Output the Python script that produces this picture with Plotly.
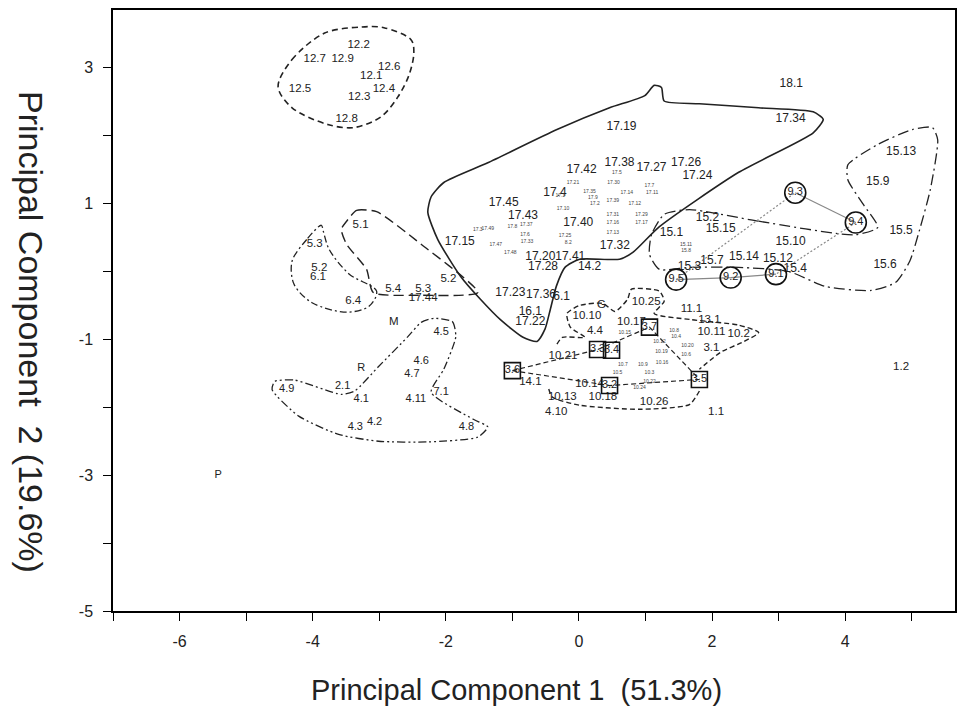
import plotly.graph_objects as go

# ---------------- data (PC1, PC2 scores) ----------------
g12_names = ["12.2", "12.7", "12.9", "12.6", "12.1", "12.4", "12.5", "12.3", "12.8"]
g12_x = [-3.31, -3.97, -3.55, -2.85, -3.12, -2.93, -4.19, -3.30, -3.49]
g12_y = [3.34, 3.12, 3.12, 3.01, 2.88, 2.68, 2.68, 2.57, 2.25]

g5_names = ["5.1", "5.3", "5.2", "6.1", "6.4", "5.4", "5.3", "17.44", "5.2", "M"]
g5_x = [-3.28, -3.97, -3.90, -3.92, -3.39, -2.79, -2.34, -2.34, -1.96, -2.78]
g5_y = [0.68, 0.40, 0.05, -0.08, -0.43, -0.26, -0.26, -0.40, -0.12, -0.75]

g4_names = ["4.5", "4.6", "4.7", "R", "2.1", "4.9", "4.1", "4.11", "7.1", "4.2", "4.3", "4.8", "P"]
g4_x = [-2.07, -2.37, -2.51, -3.27, -3.55, -4.39, -3.27, -2.45, -2.07, -3.07, -3.36, -1.69, -5.42]
g4_y = [-0.90, -1.32, -1.51, -1.43, -1.69, -1.74, -1.88, -1.88, -1.78, -2.22, -2.29, -2.29, -3.00]

g17_names = ["18.1", "17.34", "17.19", "17.42", "17.38", "17.27", "17.26", "17.24", "17.4",
             "17.45", "17.43", "17.40", "17.15", "17.32", "17.20", "17.41", "17.28", "14.2",
             "17.23", "17.36", "6.1", "16.1", "17.22"]
g17_x = [3.19, 3.18, 0.64, 0.04, 0.61, 1.09, 1.61, 1.78, -0.36,
         -1.13, -0.84, -0.01, -1.79, 0.54, -0.58, -0.13, -0.54, 0.16,
         -1.03, -0.57, -0.26, -0.73, -0.73]
g17_y = [2.76, 2.24, 2.12, 1.50, 1.60, 1.53, 1.60, 1.41, 1.16,
         1.01, 0.82, 0.71, 0.43, 0.37, 0.21, 0.21, 0.06, 0.06,
         -0.32, -0.35, -0.37, -0.59, -0.75]

g15_names = ["15.13", "15.9", "15.5", "15.6", "15.2", "15.15", "15.1", "15.10", "15.14",
             "15.7", "15.12", "15.3", "15.4"]
g15_x = [4.84, 4.49, 4.84, 4.60, 1.93, 2.13, 1.39, 3.18, 2.48, 2.00, 2.99, 1.66, 3.25]
g15_y = [1.76, 1.31, 0.59, 0.09, 0.78, 0.62, 0.56, 0.43, 0.22, 0.16, 0.19, 0.07, 0.03]

g9_names = ["9.5", "9.3", "9.4", "9.1", "9.2"]
g9_x = [1.46, 3.25, 4.16, 2.96, 2.28]
g9_y = [-0.12, 1.16, 0.72, -0.04, -0.09]

g10_names = ["G", "10.25", "10.10", "10.17", "11.1", "13.1", "10.11", "10.2", "3.1", "4.4",
             "10.21", "14.1", "10.14", "10.13", "10.18", "4.10", "10.26", "1.1", "1.2"]
g10_x = [0.34, 1.01, 0.12, 0.79, 1.69, 1.96, 1.99, 2.40, 1.99, 0.24,
         -0.24, -0.73, 0.16, -0.25, 0.36, -0.34, 1.13, 2.06, 4.84]
g10_y = [-0.49, -0.45, -0.66, -0.74, -0.56, -0.71, -0.90, -0.93, -1.13, -0.88,
         -1.24, -1.63, -1.66, -1.85, -1.85, -2.07, -1.93, -2.07, -1.41]

g3_names = ["3.6", "3.3", "3.4", "3.7", "3.5", "3.2"]
g3_x = [-1.00, 0.28, 0.49, 1.06, 1.81, 0.46]
g3_y = [-1.46, -1.15, -1.16, -0.82, -1.59, -1.68]

tiny_names = ["17.21", "17.35", "17.1", "17.9", "17.2", "17.10", "17.3", "17.49", "17.8", "17.37",
              "17.47", "17.6", "17.33", "17.48", "17.25", "8.2", "17.5", "17.30", "17.14", "17.7",
              "17.11", "17.39", "17.12", "17.31", "17.29", "17.16", "17.17", "17.13",
              "15.11", "15.8",
              "10.8", "10.4", "10.12", "10.19", "10.20", "10.6", "10.16", "10.7", "10.9", "10.5",
              "10.3", "10.22", "10.24", "10.15"]
tiny_x = [-0.09, 0.16, -0.28, 0.21, 0.24, -0.24, -1.52, -1.37, -1.00, -0.79,
          -1.25, -0.81, -0.78, -1.03, -0.21, -0.16, 0.57, 0.52, 0.72, 1.06,
          1.10, 0.51, 0.84, 0.51, 0.94, 0.51, 0.94, 0.51,
          1.61, 1.61,
          1.43, 1.46, 1.21, 1.24, 1.63, 1.61, 1.25, 0.66, 0.96, 0.58,
          1.06, 1.06, 0.91, 0.69]
tiny_y = [1.31, 1.18, 1.12, 1.09, 0.99, 0.93, 0.62, 0.63, 0.66, 0.69,
          0.40, 0.54, 0.44, 0.28, 0.53, 0.43, 1.46, 1.31, 1.16, 1.26,
          1.16, 1.04, 0.99, 0.84, 0.84, 0.71, 0.71, 0.57,
          0.40, 0.31,
          -0.87, -0.96, -1.04, -1.18, -1.10, -1.22, -1.34, -1.37, -1.37, -1.49,
          -1.49, -1.63, -1.71, -0.90]

x_ticks = [-6, -4, -2, 0, 2, 4]
x_ticklabels = ["-6", "-4", "-2", "0", "2", "4"]
y_ticks = [-5, -3, -1, 1, 3]
y_ticklabels = ["-5", "-3", "-1", "1", "3"]

# ---------------- group outlines ----------------
out12_x = [-4.52, -4.31, -3.82, -3.27, -2.93, -2.52, -2.48, -2.55, -2.72, -2.97, -3.37, -3.76, -4.31, -4.52]
out12_y = [2.72, 3.12, 3.51, 3.60, 3.59, 3.41, 3.22, 2.90, 2.57, 2.28, 2.12, 2.16, 2.41, 2.72]

out5a_x = [-3.49, -3.34, -3.04, -2.37, -1.52, -2.37, -3.09, -3.19, -3.49, -3.57, -3.49]
out5a_y = [0.74, 0.90, 0.88, 0.40, -0.31, -0.35, -0.31, 0.03, 0.40, 0.62, 0.74]

out5b_x = [-3.87, -4.09, -4.31, -4.28, -4.01, -3.49, -3.15, -3.04, -3.45, -3.75, -3.84, -3.87]
out5b_y = [0.68, 0.47, 0.15, -0.19, -0.46, -0.60, -0.51, -0.29, -0.04, 0.32, 0.59, 0.68]

out4_x = [-2.18, -1.90, -1.85, -2.03, -2.22, -1.58, -1.37, -1.52, -2.27, -3.01, -3.61, -4.21,
          -4.61, -4.57, -4.27, -3.57, -3.37, -3.01, -2.57, -2.37, -2.18]
out4_y = [-0.69, -0.74, -0.96, -1.44, -1.78, -2.18, -2.29, -2.44, -2.51, -2.50, -2.40, -2.13,
          -1.74, -1.62, -1.60, -1.81, -1.76, -1.40, -0.96, -0.75, -0.69]

out17_x = [-0.33, 0.46, 0.99, 1.13, 1.24, 1.28, 1.81, 2.70, 3.52, 3.67, 3.52, 2.40, 1.21, 0.81,
           0.61, 0.01, -0.21, -0.34, -0.43, -0.51, -0.63, -0.84, -1.18, -1.48, -1.78, -2.12,
           -2.27, -2.22, -2.03, -1.37, -0.33]
out17_y = [2.09, 2.41, 2.59, 2.74, 2.71, 2.51, 2.47, 2.41, 2.35, 2.24, 2.04, 1.46, 0.66, 0.28,
           0.18, 0.18, 0.06, -0.22, -0.56, -0.85, -1.03, -0.97, -0.71, -0.41, -0.07, 0.47,
           0.87, 1.10, 1.31, 1.60, 2.09]

out15_x = [1.66, 2.70, 4.15, 4.49, 4.27, 4.04, 4.04, 4.49, 5.01, 5.31, 5.39, 5.28, 5.12, 4.97,
           4.76, 4.39, 3.70, 3.15, 2.40, 1.66, 1.21, 1.06, 1.09, 1.28, 1.66]
out15_y = [0.91, 0.74, 0.54, 0.65, 0.99, 1.35, 1.57, 1.87, 2.09, 2.12, 1.94, 1.21, 0.62, 0.15,
           -0.16, -0.28, -0.22, 0.00, 0.06, 0.06, 0.03, 0.25, 0.54, 0.84, 0.91]

out10a_x = [-0.33, -0.25, 0.09, -0.13, -0.18, 0.01, 0.36, 0.54, 0.73, 0.79, 1.21, 1.28, 1.13,
            1.69, 2.40, 2.70, 2.48, 2.13, 1.81]
out10a_y = [-1.07, -0.97, -0.97, -0.82, -0.62, -0.50, -0.47, -0.59, -0.41, -0.26, -0.29, -0.44,
            -0.62, -0.71, -0.79, -0.90, -1.03, -1.19, -1.44]
out10b_x = [1.81, 1.66, 0.91, 0.01, -0.40, -0.46]
out10b_y = [-1.76, -1.96, -2.03, -1.97, -1.85, -1.71]

# ---------------- figure ----------------
FONT = "Liberation Sans, Arial, sans-serif"
fig = go.Figure()


def outline(xs, ys, dash, width=1.4, color="#222", shape="spline", smooth=0.9):
    fig.add_trace(go.Scatter(x=xs, y=ys, mode="lines",
                             line=dict(color=color, width=width, dash=dash, shape=shape,
                                       smoothing=smooth if shape == "spline" else None),
                             hoverinfo="skip", showlegend=False))


outline(out12_x, out12_y, "6px,4px", 1.6)
outline(out5a_x, out5a_y, "10px,5px", 1.4, smooth=0.6)
outline(out5b_x, out5b_y, "7px,3px,2px,3px", 1.3)
outline(out4_x, out4_y, "8px,3px,2px,3px,2px,3px", 1.3, smooth=0.6)
outline(out17_x, out17_y, "solid", 1.6, smooth=0.6)
outline(out15_x, out15_y, "11px,4px,2px,4px", 1.3, smooth=0.6)
outline(out10a_x, out10a_y, "5px,3px", 1.4, smooth=0.6)
outline(out10b_x, out10b_y, "5px,3px", 1.4, smooth=0.6)

# lines joining the circled 9.x points
solid_idx = [[1, 2], [3, 4, 0]]
dot_idx = [[0, 1], [2, 3]]
for seg in solid_idx:
    outline([g9_x[i] for i in seg], [g9_y[i] for i in seg], "solid", 1.2, "#888", "linear")
for seg in dot_idx:
    outline([g9_x[i] for i in seg], [g9_y[i] for i in seg], "2px,2px", 1.2, "#888", "linear")

# dashed polygon joining the boxed 3.x points
poly3 = [0, 1, 3, 4, 5, 0]
outline([g3_x[i] for i in poly3], [g3_y[i] for i in poly3], "5px,3px", 1.2, "#222", "linear")


def labels(names, xs, ys, size=12, color="#222"):
    fig.add_trace(go.Scatter(x=xs, y=ys, mode="text", text=names,
                             textposition="middle center",
                             textfont=dict(family=FONT, size=size, color=color),
                             hoverinfo="text", showlegend=False))


labels(g12_names, g12_x, g12_y, 11.5)
labels(g5_names, g5_x, g5_y, 11.5)
labels(g4_names, g4_x, g4_y, 11)
labels(g17_names, g17_x, g17_y, 12)
labels(g15_names, g15_x, g15_y, 12)
labels(g10_names, g10_x, g10_y, 11.5)
labels(tiny_names, tiny_x, tiny_y, 5, "#444")

fig.add_trace(go.Scatter(x=g9_x, y=g9_y, mode="markers+text", text=g9_names,
                         textposition="middle center",
                         textfont=dict(family=FONT, size=11, color="#222"),
                         marker=dict(symbol="circle-open", size=21, color="#111",
                                     line=dict(width=1.6, color="#111")),
                         showlegend=False))
fig.add_trace(go.Scatter(x=g3_x, y=g3_y, mode="markers+text", text=g3_names,
                         textposition="middle center",
                         textfont=dict(family=FONT, size=11, color="#222"),
                         marker=dict(symbol="square-open", size=16, color="#111",
                                     line=dict(width=1.6, color="#111")),
                         showlegend=False))

axis_common = dict(showgrid=False, zeroline=False, showline=True, linecolor="black",
                   linewidth=1.5, mirror=True, ticks="outside", ticklen=8, tickwidth=1.2,
                   tickcolor="black", automargin=False,
                   tickfont=dict(family=FONT, size=16, color="#222"))

fig.update_layout(
    width=957, height=709,
    margin=dict(l=113, r=2, t=10, b=98),
    paper_bgcolor="white", plot_bgcolor="white",
    xaxis=dict(range=[-7, 5.65], tickvals=x_ticks, ticktext=x_ticklabels,
               ticklabelstandoff=7,
               minor=dict(tickvals=[-7, -5, -3, -1, 1, 3, 5], ticks="outside", ticklen=8,
                          tickcolor="black"),
               **axis_common),
    yaxis=dict(range=[-5, 3.85], tickvals=y_ticks, ticktext=y_ticklabels,
               ticklabelstandoff=7,
               minor=dict(tickvals=[-4, -2, 0, 2], ticks="outside", ticklen=8,
                          tickcolor="black"),
               **axis_common),
    annotations=[
        dict(text="Principal Component 1  (51.3%)", xref="paper", yref="paper",
             x=(516 - 113) / 842, y=-(690 - 611) / 601, showarrow=False,
             font=dict(family=FONT, size=29, color="#222"), xanchor="center",
             yanchor="middle"),
        dict(text="Principal Component  2 (19.6%)", xref="paper", yref="paper",
             x=-(113 - 31) / 842, y=(611 - 332) / 601, showarrow=False, textangle=90,
             font=dict(family=FONT, size=34, color="#222"), xanchor="center",
             yanchor="middle"),
    ],
)

fig.write_html("out.html")
